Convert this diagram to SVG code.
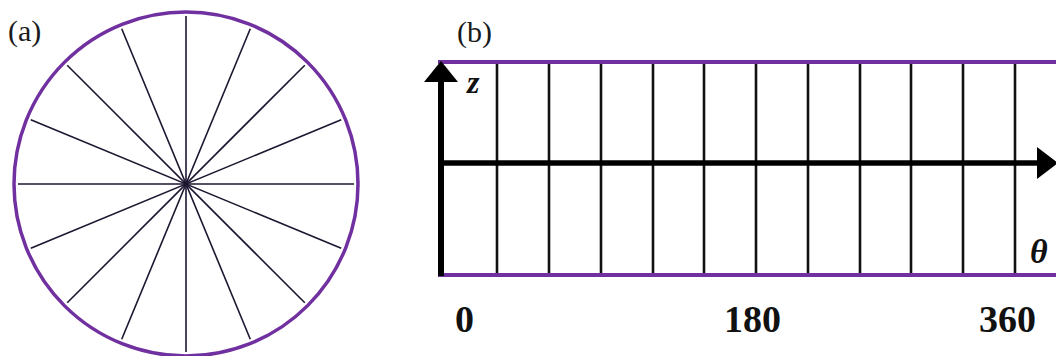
<svg xmlns="http://www.w3.org/2000/svg" width="1056" height="356" viewBox="0 0 1056 356">
<style>
.lbl{font-family:"Liberation Serif",serif;font-size:30px;fill:#1a1a1a}
.num{font-family:"Liberation Serif",serif;font-size:38px;font-weight:bold;fill:#111}
.var{font-family:"Liberation Serif",serif;font-style:italic;font-weight:bold;fill:#111}
.spoke{stroke:#1c1630;stroke-width:1.6}
.purple{stroke:#7030A0;fill:none}
.grid{stroke:#111;stroke-width:2.6}
</style>
<rect width="1056" height="356" fill="#fff"/>
<text class="lbl" x="8" y="41">(a)</text>
<text class="lbl" x="457" y="42">(b)</text>
<g id="wheel">
<g transform="translate(186,184)">
<line class="spoke" x1="-168" y1="0" x2="168" y2="0"/>
<line class="spoke" x1="0" y1="-168" x2="0" y2="168"/>
<line class="spoke" transform="rotate(22.5)" x1="-168" y1="0" x2="168" y2="0"/>
<line class="spoke" transform="rotate(45)" x1="-168" y1="0" x2="168" y2="0"/>
<line class="spoke" transform="rotate(67.5)" x1="-168" y1="0" x2="168" y2="0"/>
<line class="spoke" transform="rotate(112.5)" x1="-168" y1="0" x2="168" y2="0"/>
<line class="spoke" transform="rotate(135)" x1="-168" y1="0" x2="168" y2="0"/>
<line class="spoke" transform="rotate(157.5)" x1="-168" y1="0" x2="168" y2="0"/>
<circle class="purple" r="172" stroke-width="3.5"/>
</g>
</g>
<g id="grid">
<line class="grid" x1="497" y1="62" x2="497" y2="275"/>
<line class="grid" x1="549" y1="62" x2="549" y2="275"/>
<line class="grid" x1="601" y1="62" x2="601" y2="275"/>
<line class="grid" x1="653" y1="62" x2="653" y2="275"/>
<line class="grid" x1="704" y1="62" x2="704" y2="275"/>
<line class="grid" x1="756" y1="62" x2="756" y2="275"/>
<line class="grid" x1="808" y1="62" x2="808" y2="275"/>
<line class="grid" x1="860" y1="62" x2="860" y2="275"/>
<line class="grid" x1="911" y1="62" x2="911" y2="275"/>
<line class="grid" x1="963" y1="62" x2="963" y2="275"/>
<line class="grid" x1="1015" y1="62" x2="1015" y2="275"/>
<line class="purple" x1="438" y1="62" x2="1056" y2="62" stroke-width="4"/>
<line class="purple" x1="438" y1="275" x2="1056" y2="275" stroke-width="4"/>
</g>
<g id="axes">
<line x1="441" y1="276" x2="441" y2="78" stroke="#000" stroke-width="6"/>
<polygon points="441,61 458,82 424,82" fill="#000"/>
<line x1="438" y1="163" x2="1040" y2="163" stroke="#000" stroke-width="5.5"/>
<polygon points="1058,163 1037,147 1037,179" fill="#000"/>
</g>
<text class="var" x="467" y="93" font-size="32">z</text>
<text class="var" x="1030" y="263" font-size="34">θ</text>
<text class="num" x="455" y="332">0</text>
<text class="num" x="724" y="332">180</text>
<text class="num" x="979" y="332">360</text>
</svg>
